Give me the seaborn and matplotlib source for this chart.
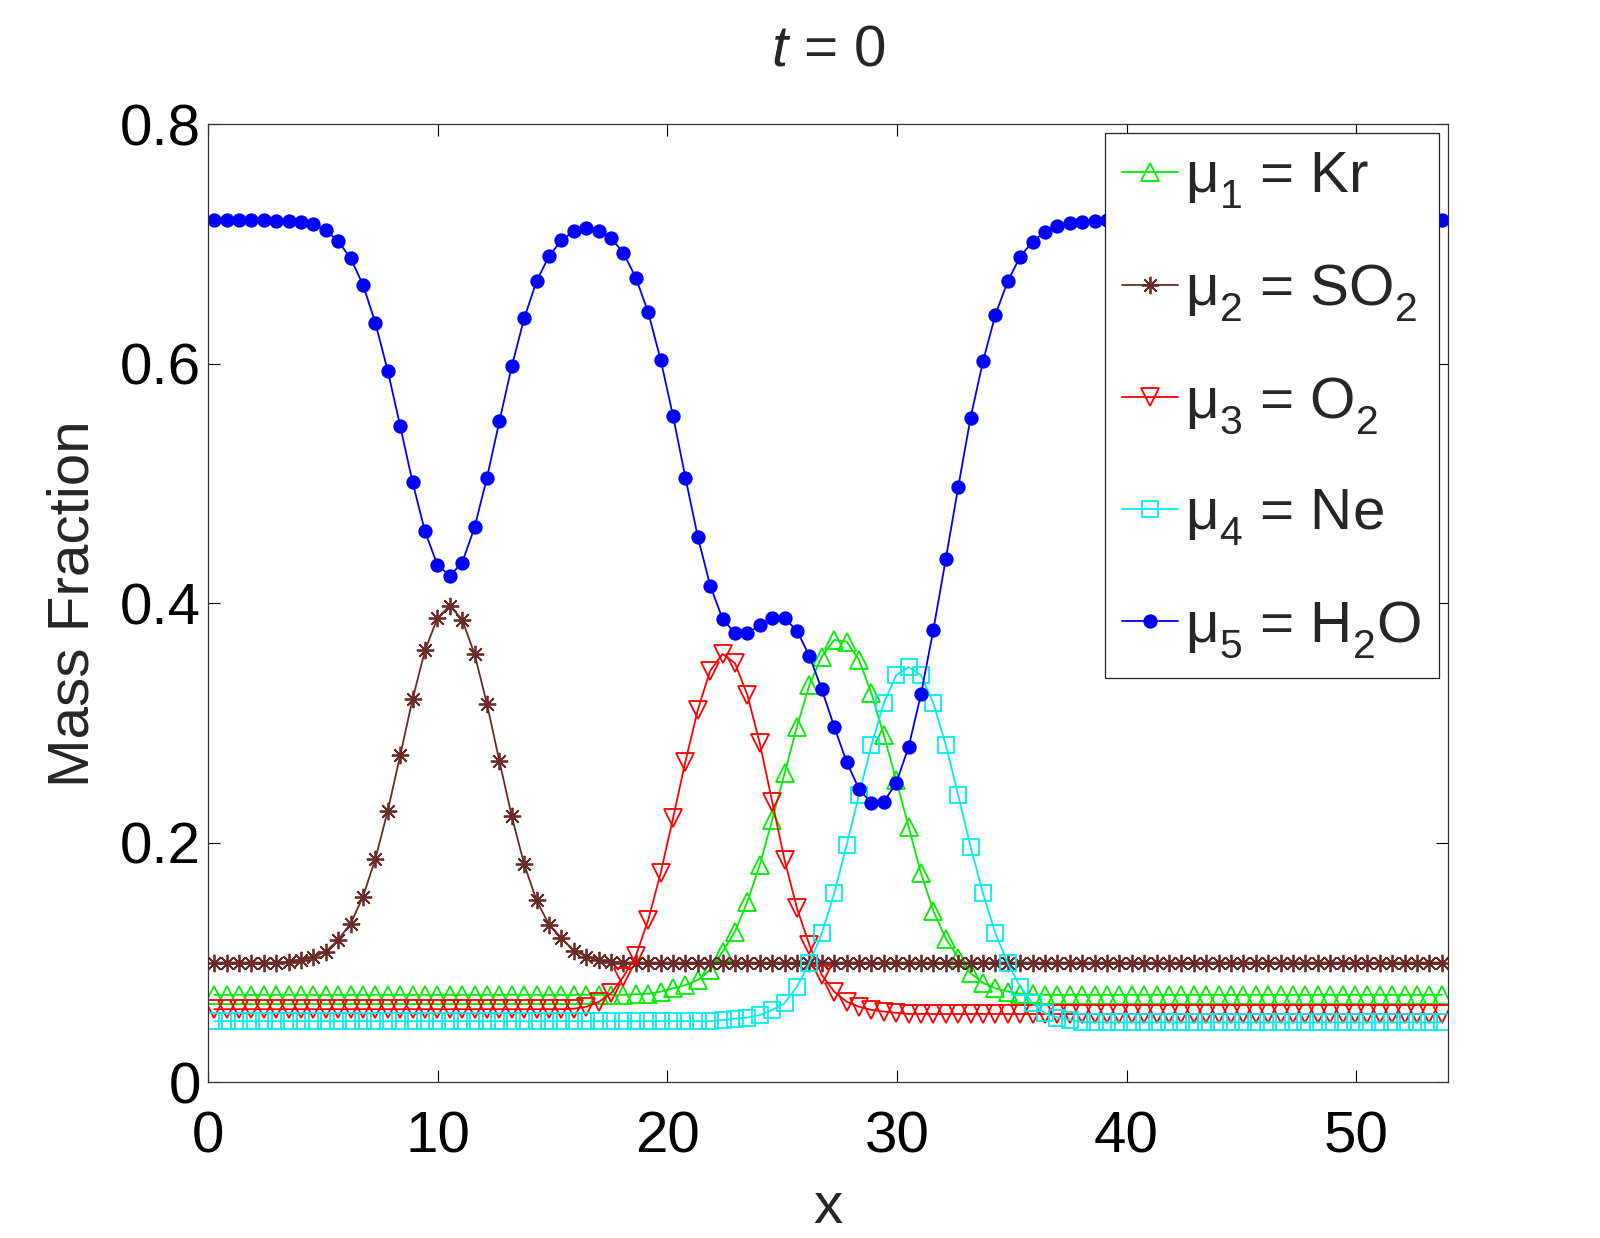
import numpy as np
import seaborn as sns
import matplotlib.pyplot as plt

# 100 cell centres on [0, 54]
x = np.arange(100) * 0.54 + 0.27

# mass fractions at t = 0
kr = [0.073, 0.073, 0.073, 0.073, 0.073, 0.073, 0.073, 0.073, 0.073, 0.073,
      0.073, 0.073, 0.073, 0.073, 0.073, 0.073, 0.073, 0.073, 0.073, 0.073,
      0.073, 0.073, 0.073, 0.073, 0.073, 0.073, 0.073, 0.073, 0.073, 0.073,
      0.073, 0.073, 0.073, 0.073, 0.0735, 0.074, 0.0757, 0.0785, 0.0812, 0.0854,
      0.0938, 0.109, 0.1258, 0.1508, 0.1815, 0.219, 0.258, 0.297, 0.3318, 0.3554,
      0.3694, 0.368, 0.3527, 0.3248, 0.290, 0.2524, 0.2134, 0.1745, 0.143, 0.120,
      0.104, 0.091, 0.083, 0.0785, 0.0757, 0.074, 0.0735, 0.073, 0.073, 0.073,
      0.073, 0.073, 0.073, 0.073, 0.073, 0.073, 0.073, 0.073, 0.073, 0.073,
      0.073, 0.073, 0.073, 0.073, 0.073, 0.073, 0.073, 0.073, 0.073, 0.073,
      0.073, 0.073, 0.073, 0.073, 0.073, 0.073, 0.073, 0.073, 0.073, 0.073]

so2 = [0.100, 0.100, 0.100, 0.100, 0.100, 0.100, 0.1005, 0.102, 0.1045, 0.109,
       0.119, 0.1325, 0.155, 0.1866, 0.2268, 0.273, 0.320, 0.3607, 0.3875, 0.398,
       0.3863, 0.3575, 0.3158, 0.2682, 0.222, 0.182, 0.1518, 0.1317, 0.1205, 0.110,
       0.105, 0.102, 0.1005, 0.100, 0.100, 0.100, 0.100, 0.100, 0.100, 0.100,
       0.100, 0.100, 0.100, 0.100, 0.100, 0.100, 0.100, 0.100, 0.100, 0.100,
       0.100, 0.100, 0.100, 0.100, 0.100, 0.100, 0.100, 0.100, 0.100, 0.100,
       0.100, 0.100, 0.100, 0.100, 0.100, 0.100, 0.100, 0.100, 0.100, 0.100,
       0.100, 0.100, 0.100, 0.100, 0.100, 0.100, 0.100, 0.100, 0.100, 0.100,
       0.100, 0.100, 0.100, 0.100, 0.100, 0.100, 0.100, 0.100, 0.100, 0.100,
       0.100, 0.100, 0.100, 0.100, 0.100, 0.100, 0.100, 0.100, 0.100, 0.100]

o2 = [0.061, 0.061, 0.061, 0.061, 0.061, 0.061, 0.061, 0.061, 0.061, 0.061,
      0.061, 0.061, 0.061, 0.061, 0.061, 0.061, 0.061, 0.061, 0.061, 0.061,
      0.061, 0.061, 0.061, 0.061, 0.061, 0.061, 0.061, 0.061, 0.061, 0.0615,
      0.063, 0.067, 0.0743, 0.0882, 0.1055, 0.1355, 0.1745, 0.2204, 0.2678, 0.311,
      0.3437, 0.3577, 0.350, 0.3234, 0.283, 0.2343, 0.1856, 0.1453, 0.1147, 0.0896,
      0.0757, 0.0673, 0.0631, 0.0605, 0.059, 0.058, 0.057, 0.057, 0.057, 0.057,
      0.057, 0.057, 0.057, 0.057, 0.057, 0.057, 0.057, 0.057, 0.057, 0.057,
      0.057, 0.057, 0.057, 0.057, 0.057, 0.057, 0.057, 0.057, 0.057, 0.057,
      0.057, 0.057, 0.057, 0.057, 0.057, 0.057, 0.057, 0.057, 0.057, 0.057,
      0.057, 0.057, 0.057, 0.057, 0.057, 0.057, 0.057, 0.057, 0.057, 0.057]

ne = [0.051, 0.051, 0.051, 0.051, 0.051, 0.051, 0.051, 0.051, 0.051, 0.051,
      0.051, 0.051, 0.051, 0.051, 0.051, 0.051, 0.051, 0.051, 0.051, 0.051,
      0.051, 0.051, 0.051, 0.051, 0.051, 0.051, 0.051, 0.051, 0.051, 0.051,
      0.051, 0.051, 0.051, 0.051, 0.051, 0.051, 0.051, 0.051, 0.051, 0.051,
      0.051, 0.052, 0.053, 0.054, 0.0562, 0.0604, 0.066, 0.0798, 0.0994, 0.1244,
      0.1578, 0.198, 0.240, 0.2817, 0.3165, 0.340, 0.3466, 0.340, 0.3165, 0.2817,
      0.240, 0.1967, 0.1578, 0.1244, 0.0994, 0.0798, 0.066, 0.0576, 0.054, 0.052,
      0.0505, 0.050, 0.050, 0.050, 0.050, 0.050, 0.050, 0.050, 0.050, 0.050,
      0.050, 0.050, 0.050, 0.050, 0.050, 0.050, 0.050, 0.050, 0.050, 0.050,
      0.050, 0.050, 0.050, 0.050, 0.050, 0.050, 0.050, 0.050, 0.050, 0.050]

h2o = [0.720, 0.720, 0.720, 0.720, 0.720, 0.7195, 0.719, 0.718, 0.7165, 0.7115,
       0.7025, 0.688, 0.666, 0.634, 0.594, 0.548, 0.501, 0.460, 0.432, 0.423,
       0.434, 0.4635, 0.505, 0.552, 0.598, 0.638, 0.669, 0.690, 0.703, 0.711,
       0.713, 0.711, 0.705, 0.6925, 0.672, 0.643, 0.6035, 0.5566, 0.505, 0.4555,
       0.4147, 0.387, 0.375, 0.375, 0.3815, 0.388, 0.3875, 0.377, 0.356, 0.328,
       0.297, 0.2675, 0.245, 0.233, 0.234, 0.250, 0.280, 0.324, 0.378, 0.437,
       0.497, 0.555, 0.602, 0.641, 0.669, 0.6895, 0.702, 0.7103, 0.715, 0.7178,
       0.7187, 0.7195, 0.720, 0.720, 0.720, 0.720, 0.720, 0.720, 0.720, 0.720,
       0.720, 0.720, 0.720, 0.720, 0.720, 0.720, 0.720, 0.720, 0.720, 0.720,
       0.720, 0.720, 0.720, 0.720, 0.720, 0.720, 0.720, 0.720, 0.720, 0.720]

labels = ['μ$_1$ = Kr', 'μ$_2$ = SO$_2$', 'μ$_3$ = O$_2$', 'μ$_4$ = Ne', 'μ$_5$ = H$_2$O']

sns.set_style('ticks')
plt.rcParams['font.family'] = ['Liberation Sans', 'DejaVu Sans']
plt.rcParams['mathtext.fontset'] = 'custom'
plt.rcParams['mathtext.rm'] = 'Liberation Sans'
plt.rcParams['mathtext.it'] = 'Liberation Sans:italic'
plt.rcParams['mathtext.bf'] = 'Liberation Sans:bold'

# drop subscripts a bit lower, like the original tex labels
try:
    import matplotlib._mathtext as _mt
    _mt.FontConstantsBase.sub1 = 0.55
    _mt.FontConstantsBase.sub2 = 0.65
except Exception:
    pass

fig = plt.figure(figsize=(16, 12.38), dpi=100)
ax = fig.add_axes([0.13, 0.1258, 0.775, 0.7738])

# colour, marker, marker size, filled?
styles = [
    ('#00ee00', '^', 12.5, False),
    ('#6b2a2a', (8, 2, 0), 12.5, False),
    ('#ff0000', 'v', 12.5, False),
    ('#00eeee', 's', 11, False),
    ('#0000ff', 'o', 9, True),
]

for vals, lab, (col, mk, ms, filled) in zip([kr, so2, o2, ne, h2o], labels, styles):
    sns.lineplot(x=x, y=vals, ax=ax, label=lab, color=col, lw=1.3,
                 marker=mk, ms=ms, mec=col, mew=1.3,
                 mfc=col if filled else 'none')

ax.set_xlim(0, 54)
ax.set_ylim(0, 0.8)
ax.set_xticks([0, 10, 20, 30, 40, 50])
ax.set_yticks([0, 0.2, 0.4, 0.6, 0.8])
ax.set_yticklabels(['0', '0.2', '0.4', '0.6', '0.8'])
ax.tick_params(direction='in', top=True, right=True, length=8.5, width=0.8,
               labelsize=42, colors='black')
ax.tick_params(axis='x', pad=20)
ax.tick_params(axis='y', pad=5)
for sp in ax.spines.values():
    sp.set_visible(True)
    sp.set_linewidth(0.9)
    sp.set_color('#333333')

ax.set_xlabel('x', fontsize=42, labelpad=12)
ax.set_ylabel('Mass Fraction', fontsize=42, labelpad=14)
ax.set_title('$t$ = 0', fontsize=42, pad=42)

leg = ax.legend(loc='upper right', bbox_to_anchor=(0.9927, 0.9906), borderaxespad=0,
                fontsize=42, frameon=True, fancybox=False, shadow=False,
                framealpha=1, edgecolor='#222222', handlelength=0.96,
                handletextpad=0.12, labelspacing=0.88, borderpad=0.3, numpoints=1)
leg.get_frame().set_linewidth(0.9)

fig.savefig('out.png', dpi=100)
